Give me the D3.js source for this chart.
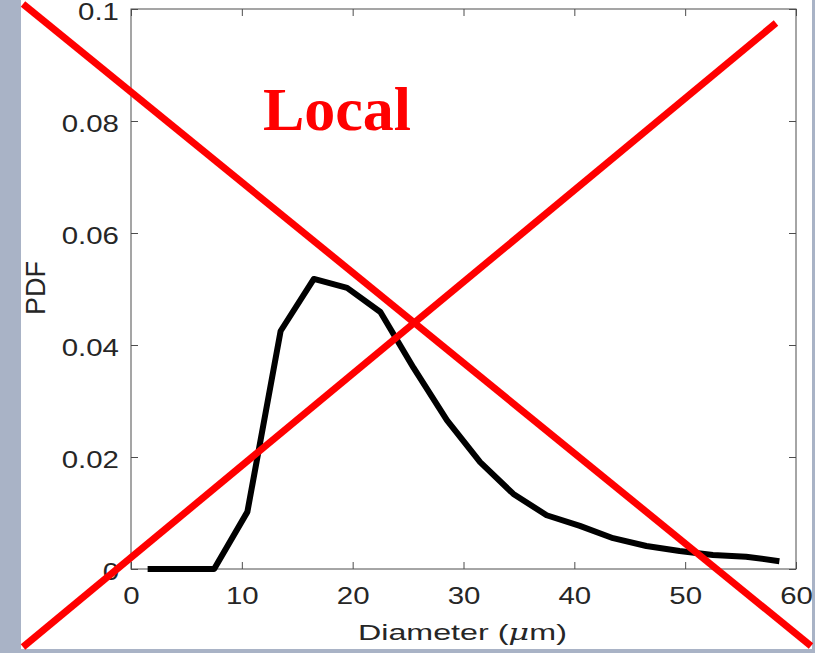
<!DOCTYPE html>
<html><head><meta charset="utf-8">
<script src="https://cdn.jsdelivr.net/npm/d3@7"></script>
<style>body{margin:0;background:#a9b3c6;}svg{display:block;}</style>
</head><body>
<svg id="c" width="815" height="653"></svg>
<script>
const diameter = [1.5,4.5,7.5,10.5,13.5,16.5,19.5,22.5,25.5,28.5,31.5,34.5,37.5,40.5,43.5,46.5,49.5,52.5,55.5,58.5];
const pdf = [0,0,0,0.0102,0.0425,0.0518,0.0502,0.0459,0.0359,0.0266,0.0191,0.0134,0.0096,0.0077,0.0055,0.0041,0.0032,0.0025,0.0022,0.0014];
const xTicks = [0,10,20,30,40,50,60];
const yTicks = [0,0.02,0.04,0.06,0.08,0.1];
const yTickLabels = ["0","0.02","0.04","0.06","0.08","0.1"];

const svg = d3.select("#c");
svg.append("rect").attr("x",21).attr("y",0).attr("width",791).attr("height",649).attr("fill","#fff");

const m = {l:131, t:9, r:796, b:569};
const x = d3.scaleLinear().domain([0,60]).range([m.l,m.r]);
const y = d3.scaleLinear().domain([0,0.1]).range([m.b,m.t]);
const axCol = "#4d4d4d";
const txtCol = "#262626";
const font = "Liberation Sans, Arial, sans-serif";
const sx = 1.28;

svg.append("rect").attr("x",m.l).attr("y",m.t).attr("width",m.r-m.l).attr("height",m.b-m.t)
  .attr("fill","none").attr("stroke",axCol).attr("stroke-width",1);

const xa = svg.append("g").attr("transform",`translate(0,${m.b})`)
  .call(d3.axisBottom(x).tickValues(xTicks).tickSize(-7).tickPadding(19).tickFormat(d3.format("d")));
const xt = svg.append("g").attr("transform",`translate(0,${m.t})`)
  .call(d3.axisTop(x).tickValues(xTicks).tickSize(-7).tickFormat(""));
const ya = svg.append("g").attr("transform",`translate(${m.l},0)`)
  .call(d3.axisLeft(y).tickValues(yTicks).tickSize(-7).tickFormat((d,i)=>yTickLabels[i]));
const yr = svg.append("g").attr("transform",`translate(${m.r},0)`)
  .call(d3.axisRight(y).tickValues(yTicks).tickSize(-7).tickFormat(""));
[xa,xt,ya,yr].forEach(g=>{
  g.select(".domain").remove();
  g.selectAll(".tick line").attr("stroke",axCol);
  g.selectAll("text").attr("fill",txtCol).attr("font-family",font).attr("font-size",23);
});
xa.selectAll(".tick text").attr("dy","0.71em").attr("x",0).attr("y",0)
  .attr("transform",`translate(0,19) scale(${sx},1)`);
ya.selectAll(".tick text").attr("dy","0.45em").attr("x",0)
  .attr("transform",`translate(-12,0) scale(${sx},1)`);

const xl = svg.append("text").attr("x",0).attr("y",0).attr("text-anchor","start")
  .attr("font-family",font).attr("font-size",22).attr("fill",txtCol);
xl.append("tspan").text("Diameter (");
xl.append("tspan").attr("font-style","italic").attr("font-family","DejaVu Serif, serif").text("μ");
xl.append("tspan").text("m)");
const w = xl.node().getComputedTextLength();
xl.attr("transform",`translate(358,640) scale(${209/w},1)`);

svg.append("text").attr("transform","translate(45,288) rotate(-90)").attr("text-anchor","middle")
  .attr("font-family",font).attr("font-size",27).attr("fill",txtCol).text("PDF");

const line = d3.line().x((d,i)=>x(diameter[i])).y(d=>y(d));
svg.append("path").datum(pdf).attr("d",line).attr("fill","none").attr("stroke","#000")
  .attr("stroke-width",6).attr("stroke-linejoin","round");

// red cross annotation
svg.append("line").attr("x1",23).attr("y1",4).attr("x2",811).attr("y2",646)
  .attr("stroke","#ff0000").attr("stroke-width",7);
svg.append("line").attr("x1",23).attr("y1",647).attr("x2",776).attr("y2",23)
  .attr("stroke","#ff0000").attr("stroke-width",7);

svg.append("text").attr("x",263).attr("y",130).attr("font-family","Liberation Serif, serif")
  .attr("font-weight","bold").attr("font-size",62).attr("fill","#ff0000").text("Local");
</script>
</body></html>
